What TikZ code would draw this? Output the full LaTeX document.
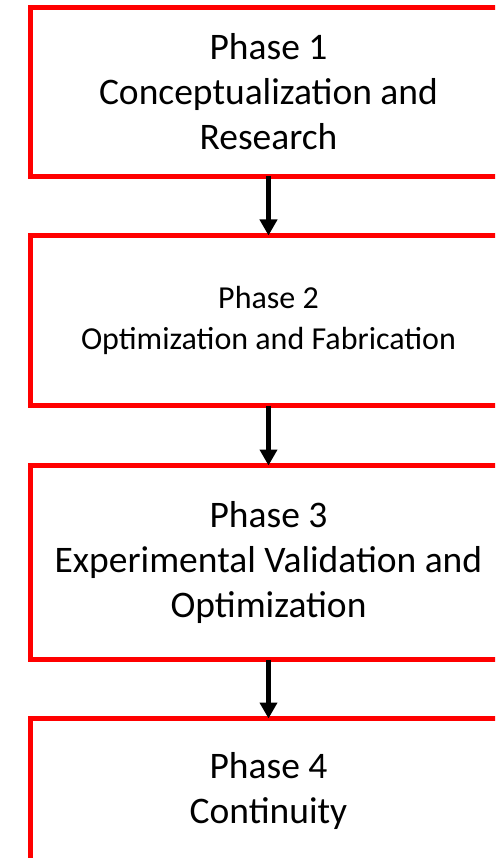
\documentclass[tikz,border=0pt]{standalone}
\usepackage{fontspec}
\setmainfont{Carlito}
\usepackage{tikz}
\usetikzlibrary{arrows.meta, positioning}

\begin{document}
\begin{tikzpicture}[
    phasebox/.style={draw=red, line width=5pt, rectangle, outer sep=0pt,
        minimum width=477pt, minimum height=169pt, align=center,
        font=\fontsize{37.5}{45}\selectfont},
    flowarrow/.style={line width=5pt, -{Triangle[width=17pt, length=16pt]}},
    node distance=59pt
]
    % Cornice
    \useasboundingbox (0,0) rectangle (495pt,-858pt);
    \clip (0,0) rectangle (495pt,-858pt);

    % Fasi
    \node[phasebox] (phase1) at (268.5pt,-92pt) {Phase 1\\Conceptualization and\\Research};
    \node[phasebox, minimum height=170pt, below=of phase1,
        font=\fontsize{32}{41}\selectfont] (phase2) {Phase 2\\Optimization and Fabrication};
    \node[phasebox, minimum height=194pt, below=60pt of phase2] (phase3) {Phase 3\\Experimental Validation and\\Optimization};
    \node[phasebox, minimum height=145pt, below=of phase3] (phase4) {Phase 4\\Continuity};

    % Frecce
    \draw[flowarrow] (phase1.south) -- (phase2.north);
    \draw[flowarrow] (phase2.south) -- (phase3.north);
    \draw[flowarrow] (phase3.south) -- (phase4.north);
\end{tikzpicture}
\end{document}
